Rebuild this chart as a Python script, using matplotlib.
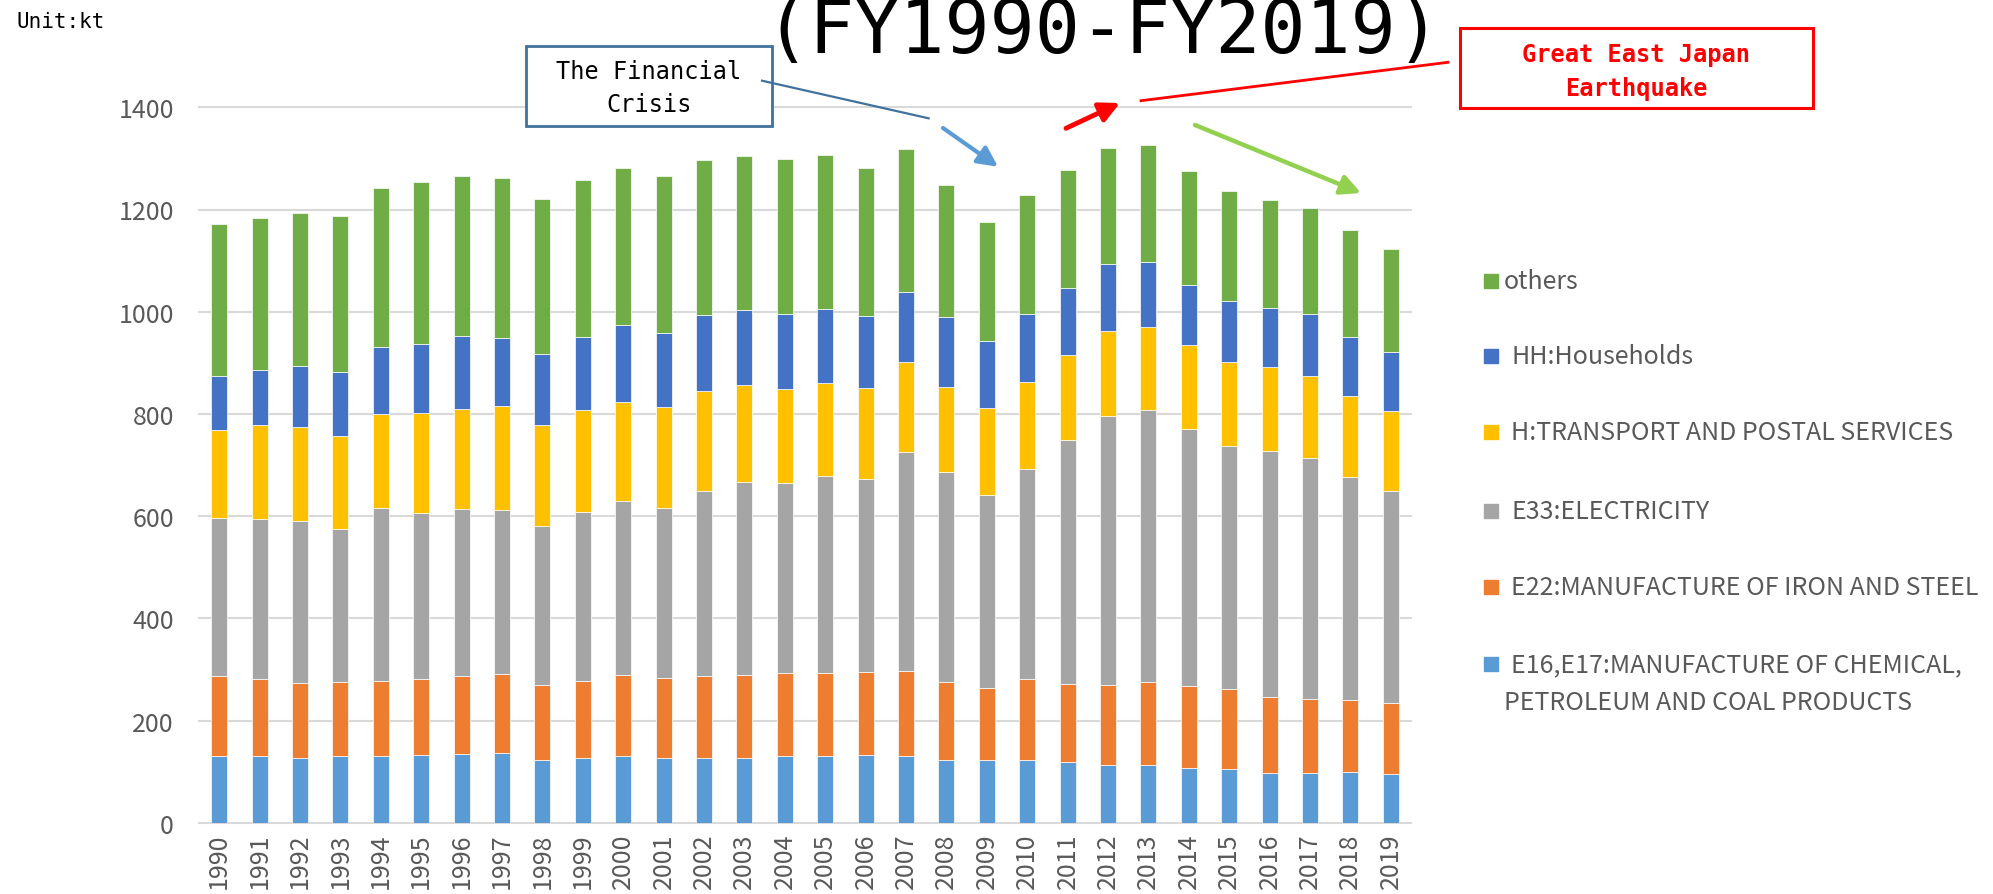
import matplotlib
matplotlib.use("Agg")
import matplotlib.pyplot as plt
from matplotlib.patches import Rectangle, FancyArrowPatch
from matplotlib.lines import Line2D

years = [str(y) for y in range(1990, 2020)]
e16 = [130, 130, 127, 131, 131, 132, 135, 136, 123, 127, 131, 127, 127, 126, 130,
       131, 132, 130, 123, 122, 123, 118, 113, 112, 108, 106, 98, 98, 99, 96]
e22 = [158, 152, 147, 145, 146, 149, 152, 155, 146, 150, 159, 156, 160, 163, 163,
       161, 162, 167, 152, 141, 159, 154, 157, 164, 160, 155, 148, 145, 141, 139]
e33 = [309, 312, 317, 299, 338, 325, 327, 321, 312, 331, 339, 333, 362, 378, 372,
       387, 378, 428, 411, 379, 410, 477, 525, 531, 502, 477, 482, 470, 436, 414]
h_tr = [171, 184, 183, 181, 184, 195, 195, 203, 198, 199, 194, 198, 195, 189, 184,
        181, 178, 176, 167, 169, 170, 167, 168, 163, 164, 164, 164, 161, 159, 157]
hh = [106, 108, 119, 126, 132, 135, 143, 133, 138, 143, 151, 145, 149, 147, 146,
      145, 141, 138, 136, 131, 133, 130, 130, 127, 119, 118, 116, 121, 115, 115]
others = [298, 298, 300, 305, 311, 318, 314, 313, 304, 308, 307, 306, 304, 301, 304,
          302, 291, 279, 258, 234, 233, 231, 228, 230, 223, 217, 211, 208, 210, 202]

series = [e16, e22, e33, h_tr, hh, others]
labels = ["E16,E17:MANUFACTURE OF CHEMICAL,\nPETROLEUM AND COAL PRODUCTS",
          "E22:MANUFACTURE OF IRON AND STEEL",
          "E33:ELECTRICITY",
          "H:TRANSPORT AND POSTAL SERVICES",
          "HH:Households",
          "others"]
colors = ["#5B9BD5", "#ED7D31", "#A5A5A5", "#FFC000", "#4472C4", "#70AD47"]
yticks = [0, 200, 400, 600, 800, 1000, 1200, 1400]

W, H = 1993, 895
fig = plt.figure(figsize=(W / 100, H / 100), dpi=100)


def fx(x):
    return x / W


def fy(y):
    return 1 - y / H


ax = fig.add_axes([fx(199), fy(823.7), fx(1411) - fx(199), fy(108.3) - fy(823.7)])

tick_font = ["Noto Sans CJK JP", "DejaVu Sans"]
mono = ["DejaVu Sans Mono"]

x = list(range(len(years)))
bottom = [0] * len(years)
for vals, col in zip(series, colors):
    ax.bar(x, vals, width=0.4, bottom=bottom, color=col, edgecolor="white",
           linewidth=0.5, zorder=3)
    bottom = [b + v for b, v in zip(bottom, vals)]

ax.set_xlim(-0.5, len(years) - 0.5)
ax.set_ylim(0, 1400)
ax.set_yticks(yticks)
ax.set_xticks(x)
ax.set_xticklabels(years, rotation=90)
ax.tick_params(axis="both", length=0, colors="#595959", labelsize=18)
ax.tick_params(axis="y", pad=18)
ax.tick_params(axis="x", pad=7)
for lab in ax.get_xticklabels() + ax.get_yticklabels():
    lab.set_family(tick_font)
for s in ax.spines.values():
    s.set_visible(False)
ax.set_axisbelow(True)
ax.grid(axis="y", color="#D9D9D9", linewidth=1.5)
for gl in ax.get_ygridlines():
    gl.set_clip_on(False)

# legend (manual, to match layout)
leg_rows = [282, 356.7, 433.3, 511.7, 588.3, 665]
order = [5, 4, 3, 2, 1, 0]
lfs = 18
for row_y, idx in zip(leg_rows, order):
    fig.patches.append(Rectangle((fx(1484), fy(row_y + 7)), fx(14), 14 / H,
                                 transform=fig.transFigure, color=colors[idx]))
    lab = labels[idx]
    if idx == 5:
        fig.text(fx(1504), fy(row_y), lab, color="#595959", fontsize=lfs,
                 family=tick_font, va="center", ha="left")
    elif "\n" in lab:
        l1, l2 = lab.split("\n")
        fig.text(fx(1511), fy(row_y), l1, color="#595959", fontsize=lfs,
                 family=tick_font, va="center", ha="left")
        fig.text(fx(1504), fy(row_y + 37.7), l2, color="#595959", fontsize=lfs,
                 family=tick_font, va="center", ha="left")
    else:
        fig.text(fx(1511), fy(row_y), lab, color="#595959", fontsize=lfs,
                 family=tick_font, va="center", ha="left")

# unit label
fig.text(fx(16), fy(27.5), "Unit:kt", fontsize=15, family=mono, color="black",
         va="baseline", ha="left")

# title (cut off at the top edge, as in the original)
fig.text(fx(1103), fy(53), "(FY1990-FY2019)", fontsize=54, family=mono,
         color="black", va="baseline", ha="center")

# Financial crisis box
fig.patches.append(Rectangle((fx(526), fy(127)), fx(772) - fx(526), fy(47) - fy(127),
                             transform=fig.transFigure, facecolor="white",
                             edgecolor="#41719C", linewidth=2))
fig.text(fx(649), fy(72), "The Financial", fontsize=17, family=mono, color="black",
         va="center", ha="center")
fig.text(fx(649), fy(105), "Crisis", fontsize=17, family=mono, color="black",
         va="center", ha="center")
fig.lines.append(Line2D([fx(762), fx(928.6)], [fy(81.7), fy(119.3)],
                        transform=fig.transFigure, color="#41719C", linewidth=1.6))
fig.patches.append(FancyArrowPatch((fx(943), fy(129)), (fx(998), fy(167.7)),
                                   transform=fig.transFigure, arrowstyle="-|>",
                                   mutation_scale=30, linewidth=3, color="#5B9BD5",
                                   shrinkA=0, shrinkB=0))

# Great East Japan Earthquake box
fig.patches.append(Rectangle((fx(1459.5), fy(109.3)), fx(1813) - fx(1459.5),
                             fy(29.3) - fy(109.3), transform=fig.transFigure,
                             facecolor="white", edgecolor="#FF0000", linewidth=2.2))
fig.text(fx(1636), fy(55), "Great East Japan", fontsize=17, family=mono,
         weight="bold", color="#FF0000", va="center", ha="center")
fig.text(fx(1636), fy(89.3), "Earthquake", fontsize=17, family=mono,
         weight="bold", color="#FF0000", va="center", ha="center")
fig.lines.append(Line2D([fx(1448), fx(1141)], [fy(63.3), fy(101.7)],
                        transform=fig.transFigure, color="#FF0000", linewidth=2))
fig.patches.append(FancyArrowPatch((fx(1066), fy(129.3)), (fx(1120), fy(104)),
                                   transform=fig.transFigure, arrowstyle="-|>",
                                   mutation_scale=30, linewidth=3.5, color="#FF0000",
                                   shrinkA=0, shrinkB=0))

# decline arrow
fig.patches.append(FancyArrowPatch((fx(1195), fy(126)), (fx(1361), fy(194)),
                                   transform=fig.transFigure, arrowstyle="-|>",
                                   mutation_scale=30, linewidth=3.2, color="#92D050",
                                   shrinkA=0, shrinkB=0))

fig.savefig("out.png", dpi=100)
